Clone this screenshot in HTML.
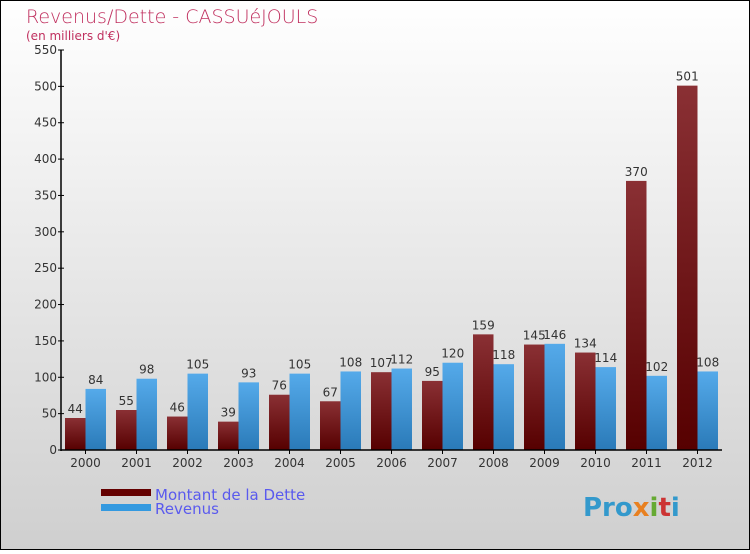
<!DOCTYPE html>
<html><head><meta charset="utf-8"><style>
html,body{margin:0;padding:0}
body{width:750px;height:550px;overflow:hidden;font-family:"DejaVu Sans","Liberation Sans",sans-serif}
</style></head><body>
<svg width="750" height="550" xmlns="http://www.w3.org/2000/svg">
<defs>
<linearGradient id="bg" x1="0" y1="0" x2="0" y2="1"><stop offset="0" stop-color="#ffffff"/><stop offset="1" stop-color="#cfcfcf"/></linearGradient>
<linearGradient id="gd" x1="0" y1="0" x2="0" y2="1"><stop offset="0" stop-color="#8a3034"/><stop offset="1" stop-color="#560000"/></linearGradient>
<linearGradient id="gr" x1="0" y1="0" x2="0" y2="1"><stop offset="0" stop-color="#55aaea"/><stop offset="1" stop-color="#2a7ab8"/></linearGradient>
</defs>
<rect x="0.5" y="0.5" width="749" height="549" fill="url(#bg)" stroke="#000"/>
<text x="26" y="23" font-size="19" fill="#c0305f" font-family="DejaVu Sans" font-weight="200">Revenus/Dette - CASSUéJOULS</text>
<text x="26" y="40" font-size="12" fill="#c0305f">(en milliers d'€)</text>
<g id="plot"></g>
<g>
<rect x="101" y="489" width="50" height="7" fill="#640000"/>
<rect x="101" y="504" width="50" height="7" fill="#3399e0"/>
<text x="155" y="500" font-size="15" fill="#5a5aee">Montant de la Dette</text>
<text x="155" y="514" font-size="15" fill="#5a5aee">Revenus</text>
</g>
<text x="583" y="516" font-size="26" font-weight="bold" fill="#3399cc">Pro<tspan fill="#e88020">x</tspan><tspan fill="#66aa33">i</tspan><tspan fill="#cc3333">t</tspan><tspan fill="#3399cc">i</tspan></text>
</svg>
<script>
const years=['2000','2001','2002','2003','2004','2005','2006','2007','2008','2009','2010','2011','2012'];
const dette=[44,55,46,39,76,67,107,95,159,145,134,370,501];
const revenus=[84,98,105,93,105,108,112,120,118,146,114,102,108];
const yTicks=[0,50,100,150,200,250,300,350,400,450,500,550];
const NS='http://www.w3.org/2000/svg';
const g=document.getElementById('plot');
const y0=450,yTop=50,yMax=550,x0=61,pitch=51,bw=20.5;
const Y=v=>y0-v*(y0-yTop)/yMax;
const X=i=>65+i*pitch;
function mk(t,a){const e=document.createElementNS(NS,t);for(const k in a)e.setAttribute(k,a[k]);g.appendChild(e);return e;}
years.forEach((yr,i)=>{
  let r=mk('rect',{x:X(i),y:Y(dette[i]),width:bw,height:y0-Y(dette[i]),fill:'url(#gd)'});
  
  
  r=mk('rect',{x:X(i)+bw,y:Y(revenus[i]),width:bw,height:y0-Y(revenus[i]),fill:'url(#gr)'});
  
  
  let t=mk('text',{x:X(i)+bw/2,y:Y(dette[i])-5,'font-size':12,fill:'#333','text-anchor':'middle'});t.textContent=dette[i];
  
  
  t=mk('text',{x:X(i)+bw*1.5,y:Y(revenus[i])-5,'font-size':12,fill:'#333','text-anchor':'middle'});t.textContent=revenus[i];
  
  
  t=mk('text',{x:X(i)+bw,y:467,'font-size':12,fill:'#333','text-anchor':'middle'});t.textContent=yr;
  
  
  mk('line',{x1:X(i)+bw,x2:X(i)+bw,y1:y0,y2:y0+4,stroke:'#000'});
});
yTicks.forEach(v=>{
  mk('line',{x1:x0-3,x2:x0+3,y1:Y(v),y2:Y(v),stroke:'#000'});
  const t=mk('text',{x:x0-4,y:Y(v)+4,'font-size':12,fill:'#333','text-anchor':'end'});t.textContent=v;
  
  
});
let ax=mk('line',{x1:x0,x2:x0,y1:yTop,y2:y0+1,stroke:'#000','stroke-width':1.5});


ax=mk('line',{x1:x0,x2:722,y1:y0,y2:y0,stroke:'#000','stroke-width':1.5});


</script>
</body></html>
